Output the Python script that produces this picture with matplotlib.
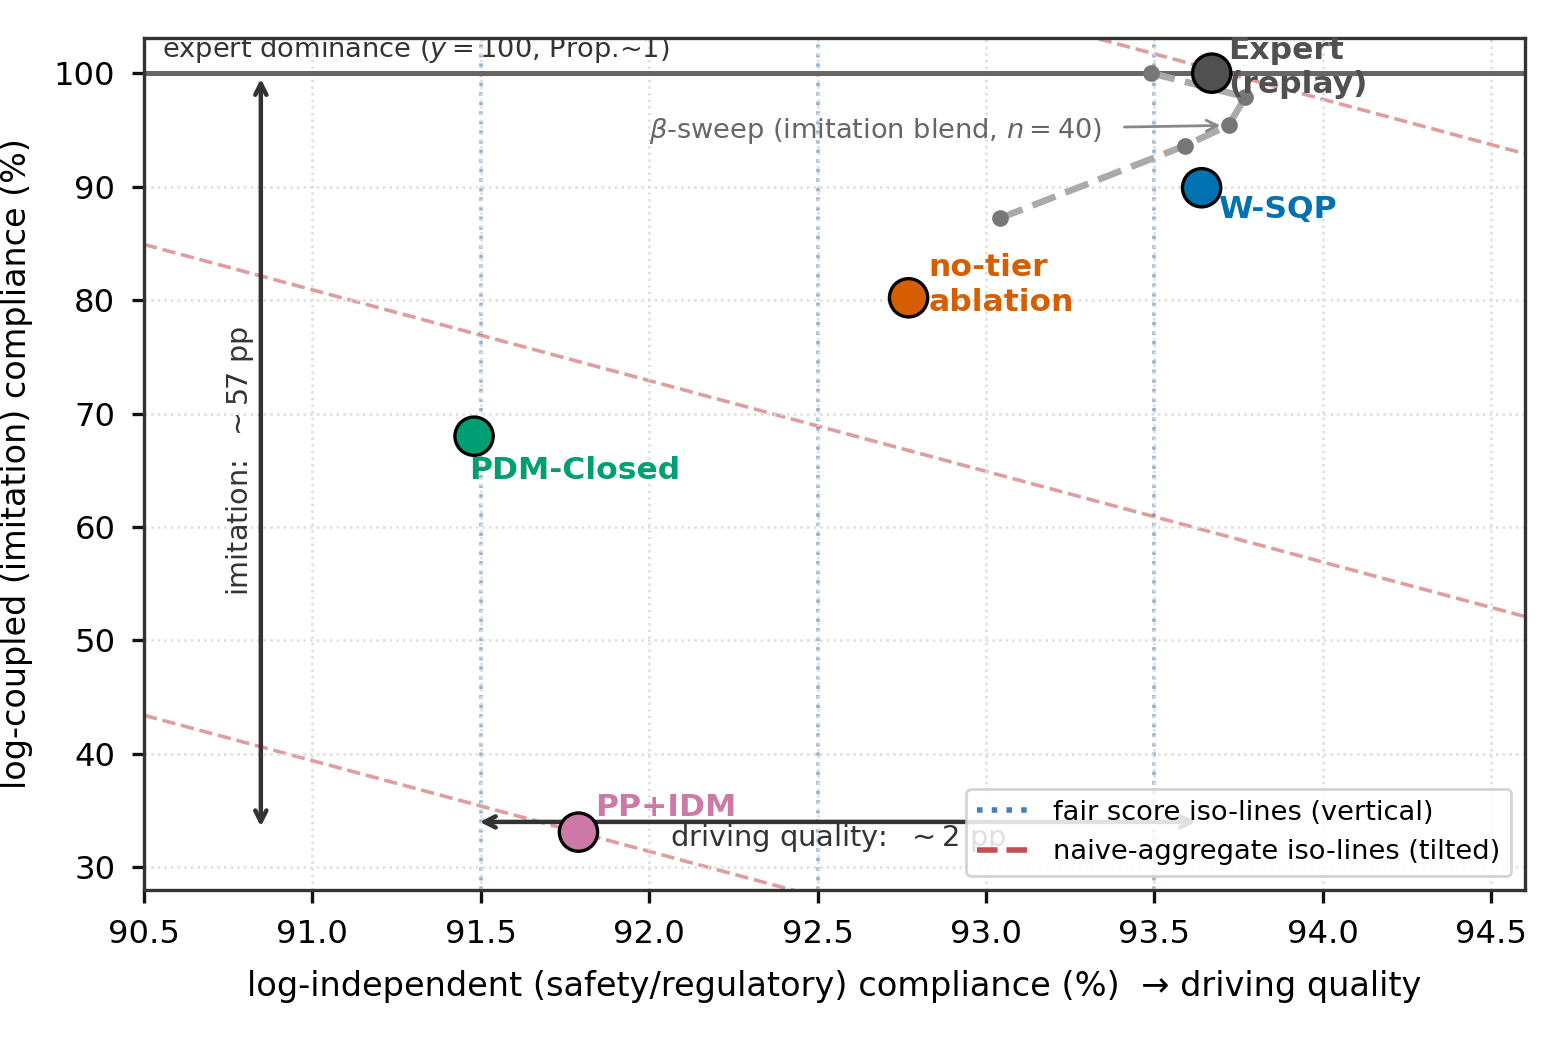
import matplotlib
matplotlib.use("Agg")
import matplotlib.pyplot as plt
from matplotlib.lines import Line2D
import numpy as np

plt.rcParams['font.family'] = ['DejaVu Sans']

# ---- data ----
methods = ["Expert\n(replay)", "W-SQP", "no-tier\nablation", "PDM-Closed", "PP+IDM"]
x_indep = [93.67, 93.64, 92.77, 91.48, 91.79]
y_coupled = [100.0, 89.9, 80.2, 68.0, 33.1]
colors = ["#505050", "#0072B2", "#D55E00", "#009E73", "#CC79A7"]
label_pos_x = [93.72, 93.69, 92.83, 91.465, 91.84]
label_pos_y = [100.5, 87.95, 81.3, 64.95, 35.3]

beta_x = [93.04, 93.59, 93.72, 93.77, 93.49]
beta_y = [87.2, 93.6, 95.4, 97.9, 100.0]

fair_iso_x = [91.5, 92.5, 93.5]
naive_slope = -8.0
naive_levels_at_905 = [43.4, 84.9, 125.7]

xticks = [90.5, 91.0, 91.5, 92.0, 92.5, 93.0, 93.5, 94.0, 94.5]
yticks = [30, 40, 50, 60, 70, 80, 90, 100]

fig = plt.figure(figsize=(7.79, 5.19), dpi=200)
ax = fig.add_axes([0.0924, 0.1426, 0.8864, 0.8208])
xlim = (90.5, 94.6)
ylim = (28.0, 103.1)
ax.set_xlim(*xlim)
ax.set_ylim(*ylim)

ax.grid(True, color="#dddddd", linestyle=":", linewidth=0.9, zorder=0)
ax.set_xticks(xticks)
ax.set_yticks(yticks)
ax.tick_params(labelsize=11.6, color="#111111", length=4.5, width=1.2, pad=5.8)
for s in ax.spines.values():
    s.set_color("#333333")
    s.set_linewidth(1.2)

# fair iso-lines
for xv in fair_iso_x:
    ax.axvline(xv, color="#4a7fb5", linestyle=":", linewidth=1.3, alpha=0.6, zorder=1)

# naive iso-lines
xs = np.array(xlim)
for lv in naive_levels_at_905:
    ax.plot(xs, lv + naive_slope * (xs - 90.5), color="#c44e52", linestyle="--",
            linewidth=1.3, alpha=0.55, zorder=1)

# expert dominance line
ax.axhline(100, color="#666666", linewidth=1.8, zorder=2)
ax.text(90.555, 102.0, r"expert dominance ($y=100$, Prop.~1)", fontsize=9.8,
        color="#333333", va="center", ha="left", zorder=3)

# beta sweep
ax.plot(beta_x, beta_y, color="#aaaaaa", linestyle="--", linewidth=2.4, zorder=3)
ax.plot(beta_x, beta_y, linestyle="none", marker="o", markersize=5,
        color="#777777", zorder=4)
ax.annotate(r"$\beta$-sweep (imitation blend, $n=40$)", xy=(beta_x[2], beta_y[2]),
            xytext=(92.0, 94.9), fontsize=9.8, color="#666666", ha="left", va="center",
            arrowprops=dict(arrowstyle="->", color="#888888", lw=1.0, shrinkA=6, shrinkB=3),
            zorder=4)

# methods
ax.scatter(x_indep, y_coupled, s=190, c=colors, edgecolors="black", linewidths=1.2, zorder=6)
for name, lx, ly, c in zip(methods, label_pos_x, label_pos_y, colors):
    ax.text(lx, ly, name, color=c, fontsize=11.3, fontweight="bold",
            ha="left", va="center", zorder=7, linespacing=1.25)

# imitation arrow
ax.annotate("", xy=(90.847, 100.0), xytext=(90.847, 33.1),
            arrowprops=dict(arrowstyle="<->", color="#333333", lw=1.6), zorder=5)
ax.text(90.785, 65.8, r"imitation:  $\sim$57 pp", rotation=90, fontsize=10.3,
        color="#333333", ha="center", va="center", zorder=5)

# driving quality arrow
ax.annotate("", xy=(91.48, 34.0), xytext=(93.64, 34.0),
            arrowprops=dict(arrowstyle="<->", color="#333333", lw=1.6), zorder=5)
ax.text(92.56, 32.55, r"driving quality:  $\sim$2 pp", fontsize=10.4,
        color="#333333", ha="center", va="center", zorder=5)

ax.set_xlabel("log-independent (safety/regulatory) compliance (%)  \u2192 driving quality",
              fontsize=12.1, labelpad=7.5)
ax.set_ylabel("log-coupled (imitation) compliance (%)", fontsize=12.0, labelpad=7.5)

handles = [Line2D([0], [0], color="#4a7fb5", linestyle=":", linewidth=2),
           Line2D([0], [0], color="#c44e52", linestyle="--", linewidth=2)]
ax.legend(handles, ["fair score iso-lines (vertical)", "naive-aggregate iso-lines (tilted)"],
          loc="lower right", fontsize=9.8, framealpha=0.85, edgecolor="#cccccc",
          borderaxespad=0.5).set_zorder(10)

fig.savefig("out.png", dpi=200)
